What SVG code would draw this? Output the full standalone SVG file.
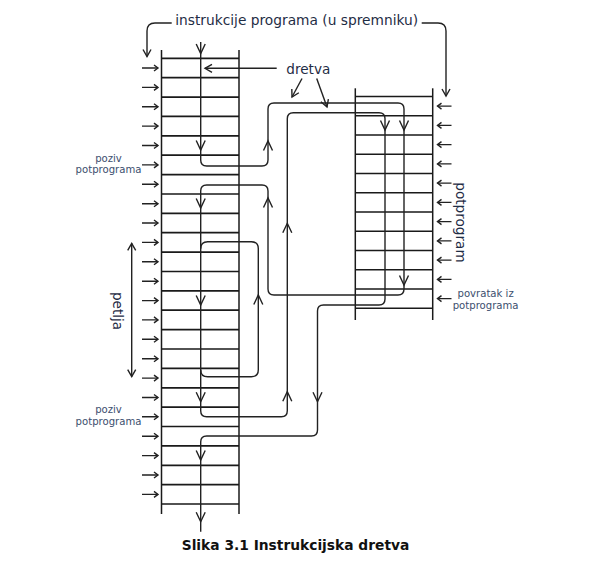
<svg xmlns="http://www.w3.org/2000/svg" xmlns:xlink="http://www.w3.org/1999/xlink" width="589" height="568" viewBox="0 0 589 568">
<style>
.bg{fill:#ffffff}
.v{stroke:#1a1a1a;stroke-width:1.5;fill:none}
.h{stroke:#1a1a1a;stroke-width:1.7;fill:none}
.ln{stroke:#222;stroke-width:1.4;fill:none}
.ia{stroke:#222;stroke-width:1.4;fill:none}
.t{font-family:"DejaVu Sans",Verdana,sans-serif;fill:#1f2d45}
.big{font-size:13.6px}
.small{font-size:10.1px;fill:#3b4e6e}
.cap{font-family:"DejaVu Sans",Verdana,sans-serif;font-weight:bold;font-size:13.5px;fill:#111}
</style>
<defs>
<path id="vd" d="M-4.5,-9.5 L0,0 L4.5,-9.5" class="ln"/>
<path id="sr" d="M-4,-3 L0,0 L-4,3" class="ia"/>
<marker id="ah" viewBox="-10 -6 12 12" refX="0" refY="0" markerWidth="12" markerHeight="12" markerUnits="userSpaceOnUse" orient="auto-start-reverse" overflow="visible">
<path d="M-7,-4 L0,0 L-7,4" fill="none" stroke="#222" stroke-width="1.4"/>
</marker>
</defs>
<rect class="bg" width="589" height="568"/>

<g id="program">
<line class="v" x1="161.5" y1="50" x2="161.5" y2="514"/>
<line class="v" x1="239" y1="50" x2="239" y2="514"/>
<path class="h" d="M161.5,58.3H239M161.5,77.7H239M161.5,97.1H239M161.5,116.4H239M161.5,135.8H239M161.5,155.2H239M161.5,174.6H239M161.5,194H239M161.5,213.3H239M161.5,232.7H239M161.5,252.1H239M161.5,271.5H239M161.5,290.9H239M161.5,310.2H239M161.5,329.6H239M161.5,349H239M161.5,368.4H239M161.5,387.8H239M161.5,407.1H239M161.5,426.5H239M161.5,445.9H239M161.5,465.3H239M161.5,484.7H239M161.5,504H239"/>
<g id="program-inputs">
<path class="ia" d="M142,68H158M142,87.4H158M142,106.8H158M142,126.1H158M142,145.5H158M142,164.9H158M142,184.3H158M142,203.7H158M142,223H158M142,242.4H158M142,261.8H158M142,281.2H158M142,300.6H158M142,319.9H158M142,339.3H158M142,358.7H158M142,378.1H158M142,397.5H158M142,416.8H158M142,436.2H158M142,455.6H158M142,475H158M142,494.4H158"/>
<use xlink:href="#sr" transform="translate(158,68)"/><use xlink:href="#sr" transform="translate(158,87.4)"/><use xlink:href="#sr" transform="translate(158,106.8)"/><use xlink:href="#sr" transform="translate(158,126.1)"/><use xlink:href="#sr" transform="translate(158,145.5)"/><use xlink:href="#sr" transform="translate(158,164.9)"/><use xlink:href="#sr" transform="translate(158,184.3)"/><use xlink:href="#sr" transform="translate(158,203.7)"/><use xlink:href="#sr" transform="translate(158,223)"/><use xlink:href="#sr" transform="translate(158,242.4)"/><use xlink:href="#sr" transform="translate(158,261.8)"/><use xlink:href="#sr" transform="translate(158,281.2)"/><use xlink:href="#sr" transform="translate(158,300.6)"/><use xlink:href="#sr" transform="translate(158,319.9)"/><use xlink:href="#sr" transform="translate(158,339.3)"/><use xlink:href="#sr" transform="translate(158,358.7)"/><use xlink:href="#sr" transform="translate(158,378.1)"/><use xlink:href="#sr" transform="translate(158,397.5)"/><use xlink:href="#sr" transform="translate(158,416.8)"/><use xlink:href="#sr" transform="translate(158,436.2)"/><use xlink:href="#sr" transform="translate(158,455.6)"/><use xlink:href="#sr" transform="translate(158,475)"/><use xlink:href="#sr" transform="translate(158,494.4)"/>
</g>
</g>

<g id="potprogram">
<line class="v" x1="355.3" y1="88.3" x2="355.3" y2="320"/>
<line class="v" x1="432.7" y1="88.3" x2="432.7" y2="320"/>
<path class="h" d="M355.3,96.5H432.7M355.3,115.75H432.7M355.3,135H432.7M355.3,154.25H432.7M355.3,173.5H432.7M355.3,192.75H432.7M355.3,212H432.7M355.3,231.25H432.7M355.3,250.5H432.7M355.3,269.75H432.7M355.3,289H432.7M355.3,308.25H432.7"/>
<g id="potprogram-inputs">
<path class="ia" d="M451.5,106.1H437.5M451.5,125.4H437.5M451.5,144.6H437.5M451.5,163.9H437.5M451.5,183.1H437.5M451.5,202.4H437.5M451.5,221.6H437.5M451.5,240.9H437.5M451.5,260.1H437.5M451.5,279.4H437.5M451.5,298.6H437.5"/>
<use xlink:href="#sr" transform="translate(437.5,106.1) rotate(180)"/><use xlink:href="#sr" transform="translate(437.5,125.4) rotate(180)"/><use xlink:href="#sr" transform="translate(437.5,144.6) rotate(180)"/><use xlink:href="#sr" transform="translate(437.5,163.9) rotate(180)"/><use xlink:href="#sr" transform="translate(437.5,183.1) rotate(180)"/><use xlink:href="#sr" transform="translate(437.5,202.4) rotate(180)"/><use xlink:href="#sr" transform="translate(437.5,221.6) rotate(180)"/><use xlink:href="#sr" transform="translate(437.5,240.9) rotate(180)"/><use xlink:href="#sr" transform="translate(437.5,260.1) rotate(180)"/><use xlink:href="#sr" transform="translate(437.5,279.4) rotate(180)"/><use xlink:href="#sr" transform="translate(437.5,298.6) rotate(180)"/>
</g>
</g>

<g id="connectors">
<path id="thread" class="ln" d="M200.7,42 V160 Q200.7,166 206.7,166 H262 Q268,166 268,160 V109 Q268,103 274,103 H398 Q404,103 404,109 V289 Q404,295 398,295 H274 Q268,295 268,289 V191 Q268,185 262,185 H206.7 Q200.7,185 200.7,191 V410.7 Q200.7,416.7 206.7,416.7 H281.3 Q287.3,416.7 287.3,410.7 V118.7 Q287.3,112.7 293.3,112.7 H379 Q385,112.7 385,118.7 V299 Q385,305 379,305 H323.5 Q317.5,305 317.5,311 V430 Q317.5,436 311.5,436 H206.7 Q200.7,436 200.7,442 V531.7"/>
<path id="loop" class="ln" d="M200.7,369.7 Q200.7,376.7 207.7,376.7 H251.3 Q258.3,376.7 258.3,369.7 V248.7 Q258.3,241.7 251.3,241.7 H207.7 Q200.7,241.7 200.7,248.7"/>
<use xlink:href="#vd" transform="translate(200.7,53.5)"/>
<use xlink:href="#vd" transform="translate(200.7,150)"/>
<use xlink:href="#vd" transform="translate(200.7,208)"/>
<use xlink:href="#vd" transform="translate(200.7,305)"/>
<use xlink:href="#vd" transform="translate(200.7,401.7)"/>
<use xlink:href="#vd" transform="translate(200.7,460)"/>
<use xlink:href="#vd" transform="translate(200.7,521.7)"/>
<use xlink:href="#vd" transform="translate(268,141) rotate(180)"/>
<use xlink:href="#vd" transform="translate(268,198) rotate(180)"/>
<use xlink:href="#vd" transform="translate(287.3,223.3) rotate(180)"/>
<use xlink:href="#vd" transform="translate(287.3,391.7) rotate(180)"/>
<use xlink:href="#vd" transform="translate(258.3,295) rotate(180)"/>
<use xlink:href="#vd" transform="translate(317.5,401.7)"/>
<use xlink:href="#vd" transform="translate(404,130)"/>
<use xlink:href="#vd" transform="translate(404,285)"/>
<use xlink:href="#vd" transform="translate(385,130)"/>
<path class="ln" d="M171.7,23 H155 Q147,23 147,31 V56.5" marker-end="url(#ah)"/>
<path class="ln" d="M421.7,23 H438 Q446,23 446,31 V96" marker-end="url(#ah)"/>
<line class="ln" x1="276.7" y1="68.3" x2="205" y2="68.3" marker-end="url(#ah)"/>
<line class="ln" x1="302" y1="78.5" x2="292" y2="97" marker-end="url(#ah)"/>
<line class="ln" x1="316.7" y1="78.5" x2="327" y2="107" marker-end="url(#ah)"/>
<line class="ln" x1="131.7" y1="243.3" x2="131.7" y2="376.7" marker-start="url(#ah)" marker-end="url(#ah)"/>
</g>

<g id="labels">
<text class="t big" x="296.7" y="24.5" text-anchor="middle" textLength="243" lengthAdjust="spacingAndGlyphs">instrukcije programa (u spremniku)</text>
<text class="t big" x="308.3" y="73.5" text-anchor="middle">dretva</text>
<text class="t small" x="108.5" y="161.5" text-anchor="middle">poziv</text>
<text class="t small" x="108.5" y="173" text-anchor="middle">potprograma</text>
<text class="t small" x="108.5" y="413" text-anchor="middle">poziv</text>
<text class="t small" x="108.5" y="425" text-anchor="middle">potprograma</text>
<text class="t big" transform="translate(113,311) rotate(90)" text-anchor="middle">petlja</text>
<text class="t big" transform="translate(455.5,222.5) rotate(90)" text-anchor="middle">potprogram</text>
<text class="t small" x="485.6" y="297.3" text-anchor="middle">povratak iz</text>
<text class="t small" x="485.6" y="309.3" text-anchor="middle">potprograma</text>
<text class="cap" x="181.7" y="550" textLength="227.6" lengthAdjust="spacingAndGlyphs">Slika 3.1 Instrukcijska dretva</text>
</g>
</svg>
